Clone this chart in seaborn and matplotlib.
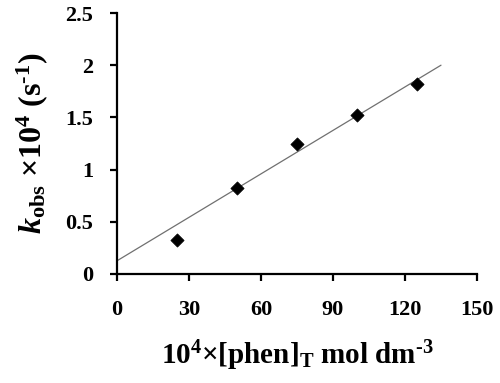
import matplotlib
matplotlib.use("Agg")
import matplotlib.pyplot as plt
import seaborn as sns
import pandas as pd

# measured points
phen = [25, 50, 75, 100, 125]
kobs = [0.326, 0.82, 1.245, 1.52, 1.82]

# drawn trend line (end points)
line_x = [0, 135]
line_y = [0.125, 2.0]

x_ticks = [0, 30, 60, 90, 120, 150]
y_ticks = [0, 0.5, 1, 1.5, 2, 2.5]
y_tick_labels = ["0", "0.5", "1", "1.5", "2", "2.5"]

sns.set_style("ticks")
plt.rcParams["font.family"] = ["Liberation Serif", "DejaVu Serif"]
plt.rcParams["font.weight"] = "bold"
plt.rcParams["text.color"] = "black"
plt.rcParams["axes.labelcolor"] = "black"
plt.rcParams["mathtext.fontset"] = "custom"
plt.rcParams["mathtext.rm"] = "Liberation Serif:bold"
plt.rcParams["mathtext.it"] = "Liberation Serif:italic:bold"
plt.rcParams["mathtext.bf"] = "Liberation Serif:bold"

pts = pd.DataFrame({"phen": phen, "kobs": kobs})
fit = pd.DataFrame({"x": line_x, "y": line_y})

fig = plt.figure(figsize=(5, 3.83), dpi=100)
ax = fig.add_axes([0.234, 0.285, 0.72, 0.681])

sns.lineplot(data=fit, x="x", y="y", ax=ax, color="#707070", linewidth=0.9)
sns.scatterplot(data=pts, x="phen", y="kobs", ax=ax, marker="D", s=45,
                color="black", edgecolor="black", zorder=3)

ax.set_xlim(0, 150)
ax.set_ylim(0, 2.5)
ax.set_xticks(x_ticks)
ax.set_xticklabels([str(v) for v in x_ticks])
ax.set_yticks(y_ticks)
ax.set_yticklabels(y_tick_labels)

for sp in ["top", "right"]:
    ax.spines[sp].set_visible(False)
for sp in ["left", "bottom"]:
    ax.spines[sp].set_linewidth(1.6)
    ax.spines[sp].set_color("black")

ax.tick_params(axis="both", direction="out", length=5, width=1.6,
               labelsize=16, colors="black")
ax.tick_params(axis="y", pad=12)
ax.tick_params(axis="x", pad=14)
for lab in ax.get_xticklabels() + ax.get_yticklabels():
    lab.set_fontweight("bold")

ax.set_xlabel(r"$10^{4}$×[phen]$_{\mathrm{T}}$ mol dm$^{\text{-3}}$",
              fontsize=21, fontweight="bold", labelpad=13)
ax.set_ylabel(r"$k_{\mathrm{obs}}$ ×10$^{4}$ (s$^{\text{-1}}$)",
              fontsize=23, fontweight="bold", labelpad=11)

plt.savefig("out.png", dpi=100)
plt.close()
